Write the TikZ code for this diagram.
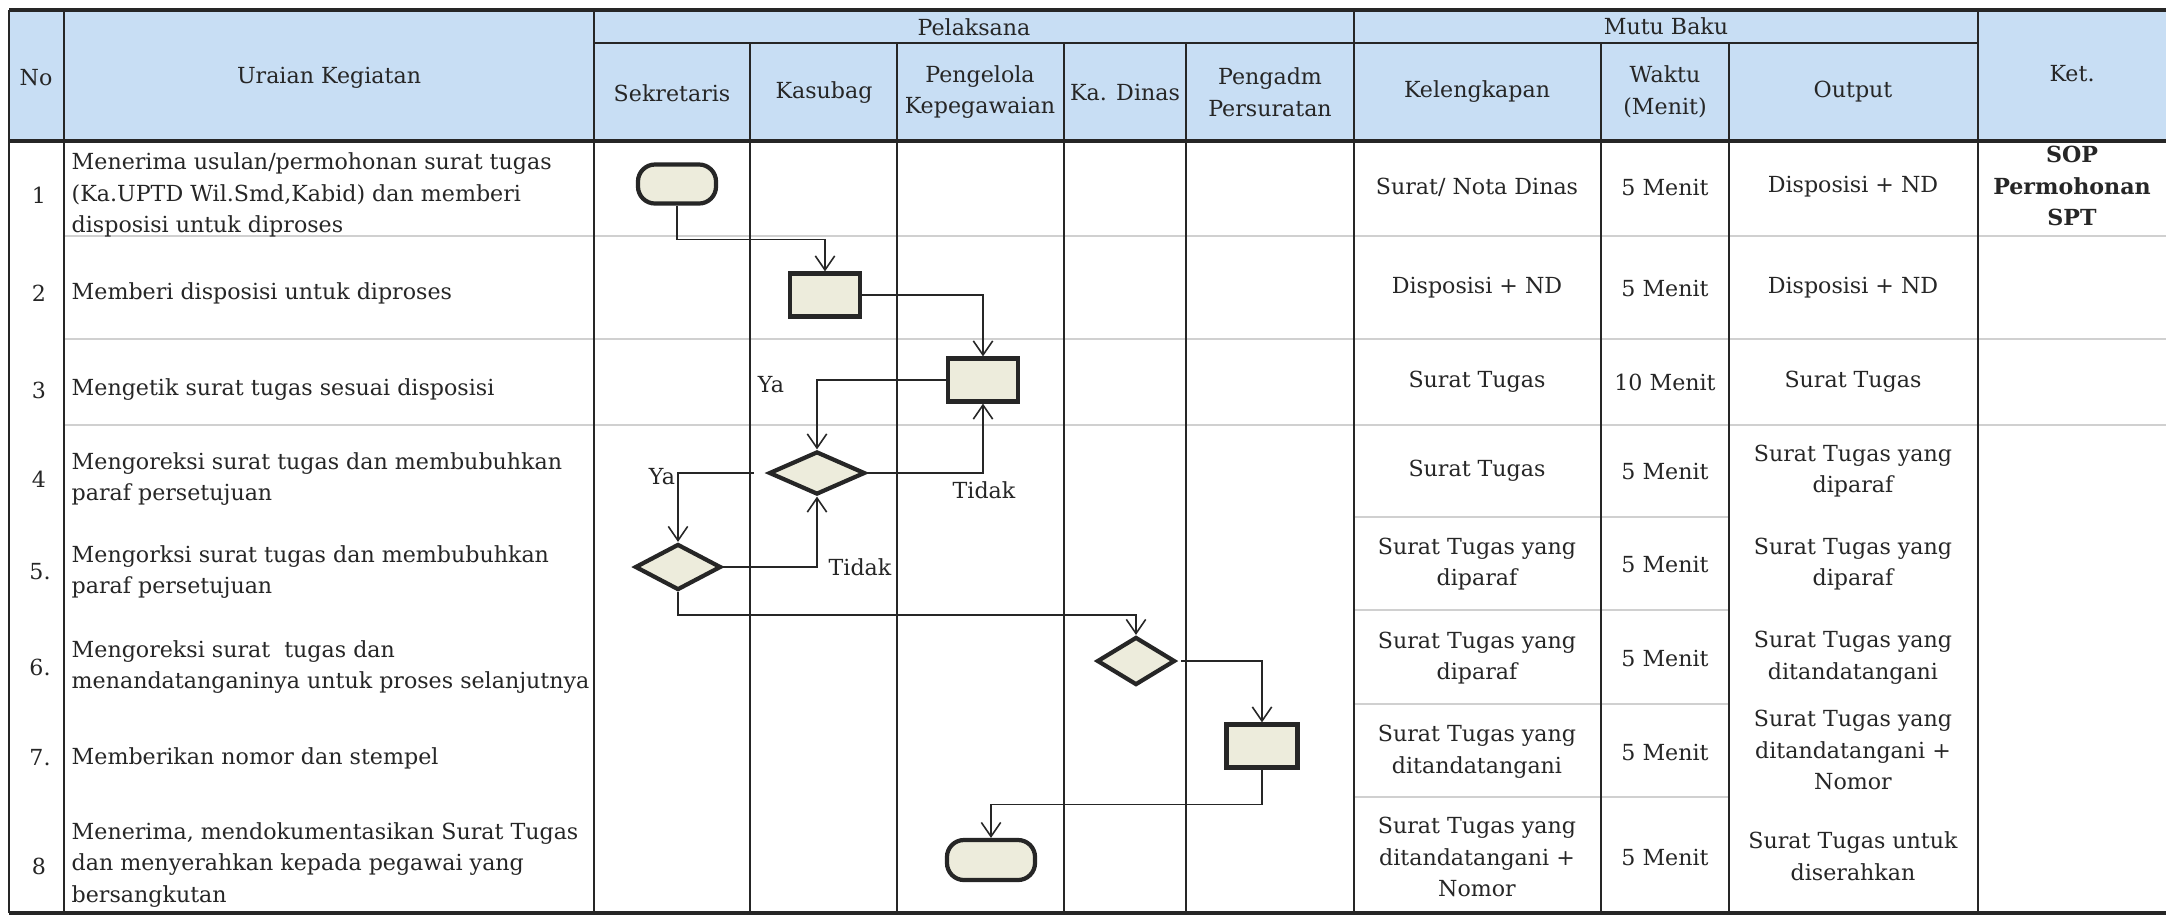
\documentclass[tikz,border=0pt]{standalone}
\usepackage{fontspec}
\setmainfont{DejaVu Serif}
\usetikzlibrary{shapes.geometric,arrows.meta}
\definecolor{headblue}{RGB}{200,222,244}
\definecolor{boxfill}{RGB}{237,236,220}
\definecolor{ink}{RGB}{38,38,38}
\definecolor{rowrule}{RGB}{208,208,208}

\begin{document}
\begin{tikzpicture}[x=0.01cm, y=-0.01cm, font=\fontsize{6.3}{9}\selectfont, text=ink,
	every node/.style={inner sep=0pt},
	term/.style={draw=ink, line width=1.2pt, fill=boxfill, rounded corners=0.17cm, minimum width=0.78cm, minimum height=0.39cm},
	proc/.style={draw=ink, line width=1.2pt, fill=boxfill, minimum width=0.70cm, minimum height=0.43cm},
	decide/.style={draw=ink, line width=1.2pt, fill=boxfill, diamond, minimum width=0.86cm, minimum height=0.46cm},
	flow/.style={draw=ink, line width=0.45pt, -{Straight Barb[length=4pt,width=5.5pt]}},
	cell/.style={align=center},
	bold/.style={align=center, font=\fontsize{6.3}{9}\selectfont\bfseries}]
	
	\useasboundingbox (0,0) rectangle (2166,917);
	\fill[white] (0,0) rectangle (2166,917);
	\fill[headblue] (9,10) rectangle (2166,141);
	
	\draw[rowrule, line width=0.5pt] (64,236) -- (2166,236) (64,339) -- (2166,339) (64,425) -- (2166,425);
	\draw[rowrule, line width=0.5pt] (1354,517) -- (1729,517) (1354,610) -- (1729,610) (1354,704) -- (1729,704) (1354,797) -- (1729,797);
	
	\draw[ink, line width=0.9pt] (9,10) -- (2166,10) (9,141) -- (2166,141) (9,913) -- (2166,913);
	\draw[ink, line width=0.7pt] (594,43) -- (1978,43);
	\draw[ink, line width=0.7pt] (9,10) -- (9,913) (64,10) -- (64,913) (594,10) -- (594,913) (1354,10) -- (1354,913) (1978,10) -- (1978,913);
	\draw[ink, line width=0.6pt] (750,43) -- (750,913) (897,43) -- (897,913) (1064,43) -- (1064,913) (1186,43) -- (1186,913);
	\draw[ink, line width=0.6pt] (1601,43) -- (1601,913) (1729,43) -- (1729,913);
	
	\node (hno) at (36,78) {No};
	\node (hura) at (329,78) {Uraian Kegiatan};
	\node (hpel) at (974,27) {Pelaksana};
	\node (hmutu) at (1666,26) {Mutu Baku};
	\node (hket) at (2072,74) {Ket.};
	\node (hsek) at (672,93) {Sekretaris};
	\node (hkas) at (824,93) {Kasubag};
	\node[cell] (hpeng) at (980,92) {Pengelola\\Kepegawaian};
	\node (hkad) at (1125,92) {Ka. Dinas};
	\node[cell] (hadm) at (1270,92) {Pengadm\\Persuratan};
	\node (hkel) at (1477,92) {Kelengkapan};
	\node[cell] (hwak) at (1665,92) {Waktu\\(Menit)};
	\node (hout) at (1853,92) {Output};
	
	\node (n1) at (39,195) {1};
	\node (n2) at (39,293) {2};
	\node (n3) at (39,390) {3};
	\node (n4) at (39,479) {4};
	\node (n5) at (40,572) {5.};
	\node (n6) at (40,667) {6.};
	\node (n7) at (40,758) {7.};
	\node (n8) at (39,866) {8};
	
	\node[anchor=west, align=left] (u1) at (71,195) {Menerima usulan/permohonan surat tugas\\(Ka.UPTD Wil.Smd,Kabid) dan memberi\\disposisi untuk diproses};
	\node[anchor=west, align=left] (u2) at (71,293) {Memberi disposisi untuk diproses};
	\node[anchor=west, align=left] (u3) at (71,390) {Mengetik surat tugas sesuai disposisi};
	\node[anchor=west, align=left] (u4) at (71,479) {Mengoreksi surat tugas dan membubuhkan\\paraf persetujuan};
	\node[anchor=west, align=left] (u5) at (71,572) {Mengorksi surat tugas dan membubuhkan\\paraf persetujuan};
	\node[anchor=west, align=left] (u6) at (71,667) {Mengoreksi surat\ \ tugas dan\\menandatanganinya untuk proses selanjutnya};
	\node[anchor=west, align=left] (u7) at (71,758) {Memberikan nomor dan stempel};
	\node[anchor=west, align=left] (u8) at (71,865) {Menerima, mendokumentasikan Surat Tugas\\dan menyerahkan kepada pegawai yang\\bersangkutan};
	
	\node[cell] (k1) at (1477,187) {Surat/ Nota Dinas};
	\node[cell] (k2) at (1477,288) {Disposisi + ND};
	\node[cell] (k3) at (1477,382) {Surat Tugas};
	\node[cell] (k4) at (1477,471) {Surat Tugas};
	\node[cell] (k5) at (1477,564) {Surat Tugas yang\\diparaf};
	\node[cell] (k6) at (1477,658) {Surat Tugas yang\\diparaf};
	\node[cell] (k7) at (1477,752) {Surat Tugas yang\\ditandatangani};
	\node[cell] (k8) at (1477,857) {Surat Tugas yang\\ditandatangani +\\Nomor};
	
	\node (w1) at (1665,187) {5 Menit};
	\node (w2) at (1665,288) {5 Menit};
	\node (w3) at (1665,382) {10 Menit};
	\node (w4) at (1665,471) {5 Menit};
	\node (w5) at (1665,564) {5 Menit};
	\node (w6) at (1665,658) {5 Menit};
	\node (w7) at (1665,752) {5 Menit};
	\node (w8) at (1665,857) {5 Menit};
	
	\node[cell] (o1) at (1853,187) {Disposisi + ND};
	\node[cell] (o2) at (1853,288) {Disposisi + ND};
	\node[cell] (o3) at (1853,382) {Surat Tugas};
	\node[cell] (o4) at (1853,471) {Surat Tugas yang\\diparaf};
	\node[cell] (o5) at (1853,564) {Surat Tugas yang\\diparaf};
	\node[cell] (o6) at (1853,658) {Surat Tugas yang\\ditandatangani};
	\node[cell] (o7) at (1853,750) {Surat Tugas yang\\ditandatangani +\\Nomor};
	\node[cell] (o8) at (1853,856) {Surat Tugas untuk\\diserahkan};
	
	\node[bold] (ket1) at (2072,186) {SOP\\Permohonan\\SPT};
	
	\node[term] (t1) at (677,184) {};
	\node[proc] (p2) at (825,295) {};
	\node[proc] (p3) at (983,380) {};
	\node[decide, minimum width=0.96cm, minimum height=0.43cm] (d4) at (817,473) {};
	\node[decide] (d5) at (678,567) {};
	\node[decide, minimum width=0.78cm, minimum height=0.48cm] (d6) at (1136,661) {};
	\node[proc, minimum width=0.71cm] (p7) at (1262,746) {};
	\node[term, minimum width=0.88cm, minimum height=0.40cm] (t8) at (991,860) {};
	
	\path[flow] (t1.south) -- ++(0,34) -| (p2.north);
	\path[flow] (p2.east) -| (p3.north);
	\path[flow] (p3.west) -| (d4.north);
	\path[flow] (d4.east) -| (p3.south);
	\path[flow, shorten <=0.13cm] (d4.west) -| (d5.north);
	\path[flow] (d5.east) -| (d4.south);
	\path[flow] (d5.south) -- ++(0,23) -| (d6.north);
	\path[flow, shorten <=0.04cm] (d6.east) -| (p7.north);
	\path[flow] (p7.south) -- ++(0,35) -| (t8.north);
	
	\node (ya1) at (771,385) {Ya};
	\node (tidak1) at (984,490) {Tidak};
	\node (ya2) at (662,477) {Ya};
	\node (tidak2) at (860,567) {Tidak};
	
\end{tikzpicture}
\end{document}
